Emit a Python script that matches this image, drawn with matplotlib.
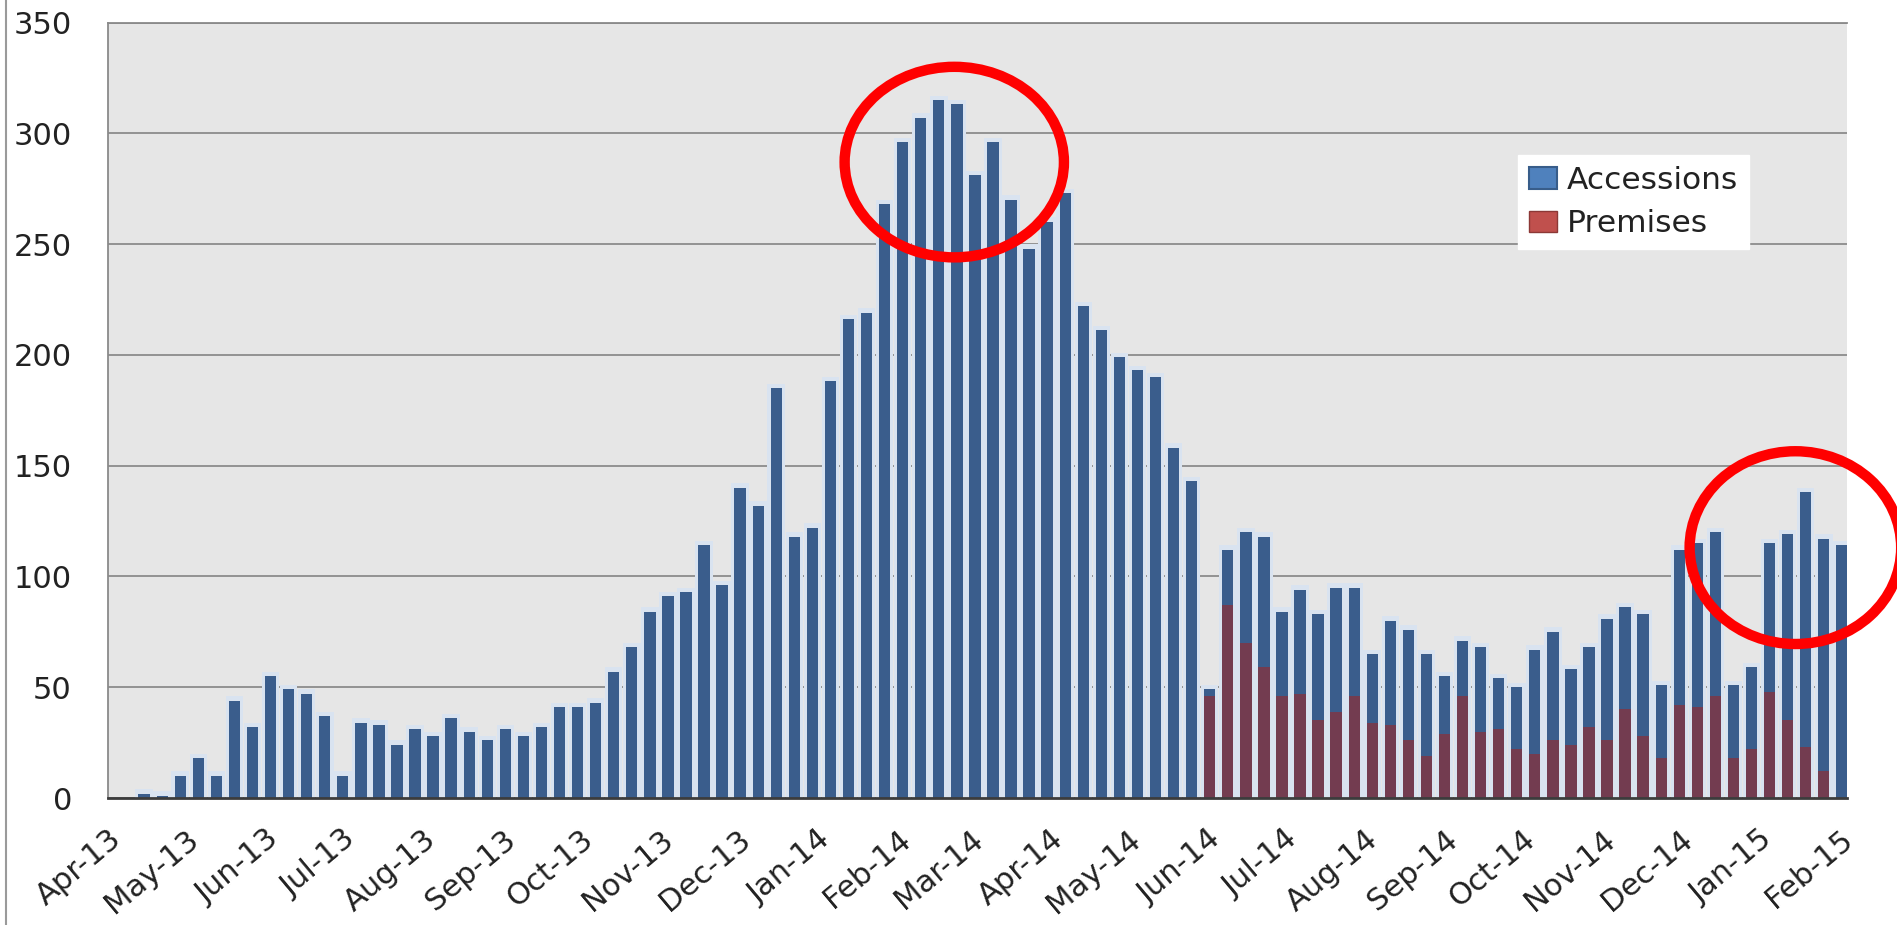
import numpy as np
import pandas as pd
import matplotlib
matplotlib.use("Agg")
import matplotlib.pyplot as plt
import matplotlib.dates as mdates
from matplotlib.patches import Ellipse, Patch
from matplotlib.lines import Line2D

# ---------- data (weekly counts) ----------
first_week = "2013-04-15"
n_weeks = 95

# blue part of each stacked bar
accessions = [2, 1, 10, 18, 10, 44, 32, 55, 49, 47,
              37, 10, 34, 33, 24, 31, 28, 36, 30, 26,
              31, 28, 32, 41, 41, 43, 57, 68, 84, 91,
              93, 114, 96, 140, 132, 185, 118, 122, 188, 216,
              219, 268, 296, 307, 315, 313, 281, 296, 270, 248,
              260, 273, 222, 211, 199, 193, 190, 158, 143, 3,
              25, 50, 59, 38, 47, 48, 56, 49, 31, 47,
              50, 46, 26, 25, 38, 23, 28, 47, 49, 34,
              36, 55, 46, 55, 33, 70, 74, 74, 33, 37,
              67, 84, 115, 105, 114]
# red part (bottom of the stack)
premises = [0] * 59 + [46,
            87, 70, 59, 46, 47, 35, 39, 46, 34, 33,
            26, 19, 29, 46, 30, 31, 22, 20, 26, 24,
            32, 26, 40, 28, 18, 42, 41, 46, 18, 22,
            48, 35, 23, 12, 0]

series_names = ["Accessions", "Premises"]
y_ticks = [0, 50, 100, 150, 200, 250, 300, 350]
x_start, x_end = "2013-04-01", "2015-02-04"
month_ticks = pd.date_range("2013-04-01", "2015-02-01", freq="MS")

# red circles drawn on the chart: (center date, center y, width days, height units)
circles = [("2014-02-23", 287, 85, 86), ("2015-01-15", 113, 82, 87)]

# ---------- style ----------
BLUE = "#3a5d8c"
RED = "#733c50"
GLOW = "#d9e3f0"
BG = "#e6e6e6"
TXT = "#222222"

weeks = pd.date_range(first_week, periods=n_weeks, freq="7D")
x = mdates.date2num(weeks)
acc = np.array(accessions)
pre = np.array(premises)
total = acc + pre

W, H = 1897, 925
fig = plt.figure(figsize=(W / 100, H / 100), dpi=100)
fig.patch.set_facecolor("white")
ax = fig.add_axes([108 / W, 1 - 798 / H, (1847 - 108) / W, (798 - 22.5) / H])
ax.set_facecolor(BG)

# soft light-blue glow behind the bars
ax.bar(x, total + 2, width=6.8, color=GLOW, zorder=1, linewidth=0)
ax.bar(x, pre, width=4.4, color=RED, zorder=3, linewidth=0)
ax.bar(x, acc, width=4.4, bottom=pre, color=BLUE, zorder=3, linewidth=0)

ax.set_ylim(0, 350)
ax.set_yticks(y_ticks)
ax.yaxis.grid(True, color="#8c8c8c", linewidth=1.3, zorder=0)
ax.set_axisbelow(True)

ax.set_xlim(mdates.date2num(pd.Timestamp(x_start)), mdates.date2num(pd.Timestamp(x_end)))
ax.set_xticks(mdates.date2num(month_ticks))
ax.set_xticklabels([d.strftime("%b-%y") for d in month_ticks])
for lbl in ax.get_xticklabels():
    lbl.set_rotation(40)
    lbl.set_ha("right")
    lbl.set_rotation_mode("anchor")

ax.tick_params(axis="y", length=0, pad=26, labelsize=22, labelcolor=TXT)
ax.tick_params(axis="x", length=0, pad=19, labelsize=22, labelcolor=TXT)

for s in ["left", "top"]:
    ax.spines[s].set_color("#8a8a8a")
    ax.spines[s].set_linewidth(1.3)
ax.spines["right"].set_visible(False)
ax.spines["bottom"].set_color("#3c3c3c")
ax.spines["bottom"].set_linewidth(2)
ax.spines["bottom"].set_zorder(4)

# legend
handles = [Patch(facecolor="#4f81bd", edgecolor="#385d8a", linewidth=1.5),
           Patch(facecolor="#c0504d", edgecolor="#8c3836", linewidth=1.0)]
leg = ax.legend(handles, series_names, loc="upper left", bbox_to_anchor=(0.8108, 0.8286),
                fontsize=22.5, frameon=True, fancybox=False, framealpha=1,
                handlelength=0.9, handleheight=0.7, handletextpad=0.3,
                borderpad=0.35, labelspacing=0.45, borderaxespad=0)
leg.get_frame().set_edgecolor("white")
leg.get_frame().set_facecolor("white")
for t in leg.get_texts():
    t.set_color(TXT)
leg.set_zorder(6)

# red highlight circles
for cdate, cy, wd, ht in circles:
    e = Ellipse((mdates.date2num(pd.Timestamp(cdate)), cy), wd, ht, fill=False,
                edgecolor="#ff0000", linewidth=7.5, zorder=7, clip_on=False)
    ax.add_patch(e)

# thin frame line at the left edge of the picture
fig.add_artist(Line2D([6 / W, 6 / W], [0, 1], color="#9a9a9a", linewidth=1.5,
                      transform=fig.transFigure))

fig.savefig("out.png", dpi=100, facecolor="white")
